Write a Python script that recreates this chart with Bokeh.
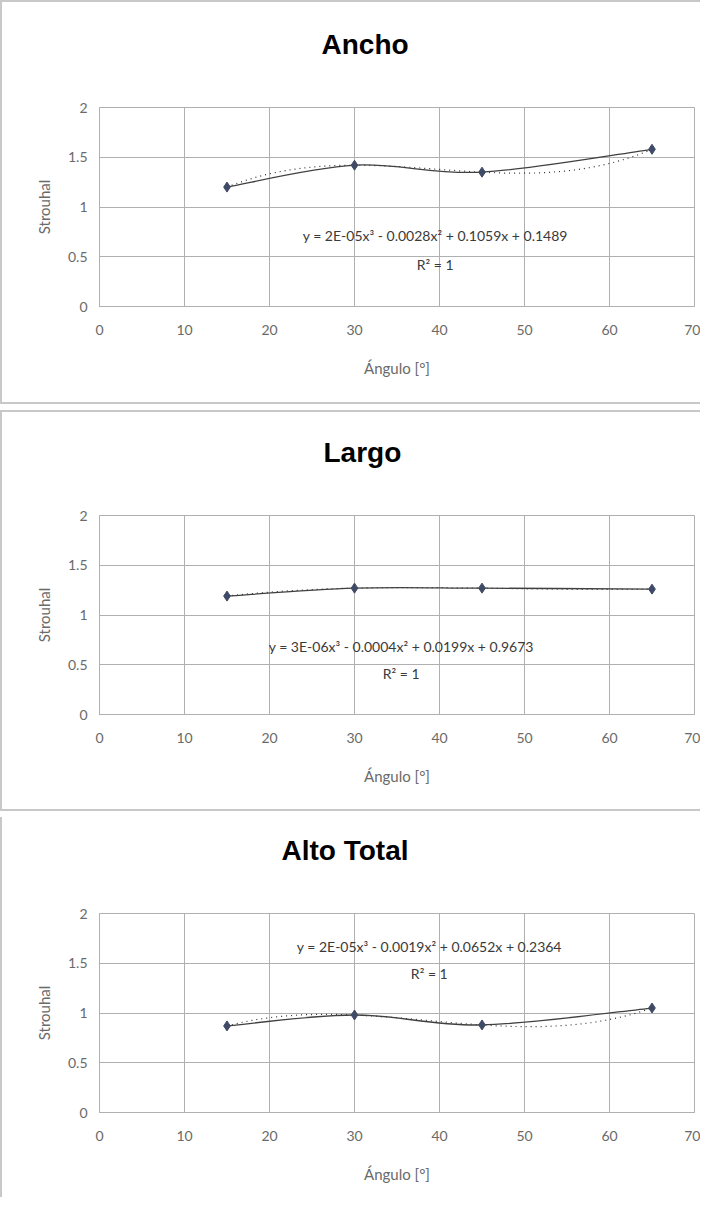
import numpy as np
from bokeh.plotting import figure
from bokeh.models import Label, FixedTicker, ColumnDataSource, Title
from bokeh.layouts import column
from bokeh.embed import file_html
from bokeh.resources import INLINE

# ---------------- data ----------------
titles = ["Ancho", "Largo", "Alto Total"]
angulo = [15, 30, 45, 65]
ancho = [1.20, 1.42, 1.35, 1.58]
largo = [1.19, 1.27, 1.27, 1.26]
alto_total = [0.87, 0.98, 0.88, 1.05]
series = [ancho, largo, alto_total]
ecuaciones = [
    "y = 2E-05x³ - 0.0028x² + 0.1059x + 0.1489",
    "y = 3E-06x³ - 0.0004x² + 0.0199x + 0.9673",
    "y = 2E-05x³ - 0.0019x² + 0.0652x + 0.2364",
]
r2_text = "R² = 1"
x_ticks = [0, 10, 20, 30, 40, 50, 60, 70]
y_ticks = [0, 0.5, 1, 1.5, 2]
y_tick_labels = ["0", "0.5", "1", "1.5", "2"]
x_label = "Ángulo [°]"
y_label = "Strouhal"

# ---------------- layout / style ----------------
eq_pos = [(39.5, 0.71, 0.42), (35.5, 0.68, 0.41), (38.8, 1.67, 1.40)]
title_offset = [222, 224, 182]
heights = [404, 401, 380]
tops = [105, 103, 96]
FRAME_H = 199
BORDER = "2px solid #c8c8c8"
GRID = "#b0b0b0"
TICK_COLOR = "#6a6a6a"


def bezier_segments(xs, ys):
    xs = np.asarray(xs, float)
    ys = np.asarray(ys, float)
    n = len(xs)
    px = np.concatenate([[xs[0]], xs, [xs[-1]]])
    py = np.concatenate([[ys[0]], ys, [ys[-1]]])
    d = dict(x0=[], y0=[], x1=[], y1=[], cx0=[], cy0=[], cx1=[], cy1=[])
    for i in range(n - 1):
        a, b, c, e = i, i + 1, i + 2, i + 3
        d["x0"].append(px[b]); d["y0"].append(py[b])
        d["x1"].append(px[c]); d["y1"].append(py[c])
        d["cx0"].append(px[b] + (px[c] - px[a]) / 6)
        d["cy0"].append(py[b] + (py[c] - py[a]) / 6)
        d["cx1"].append(px[c] - (px[e] - px[b]) / 6)
        d["cy1"].append(py[c] - (py[e] - py[b]) / 6)
    return d


figs = []
for i, (name, vals) in enumerate(zip(titles, series)):
    H = heights[i]
    if i < 2:
        borders = {"border-left": BORDER, "border-bottom": BORDER, "border-top": BORDER}
    else:
        borders = {"border-left": BORDER}
    p = figure(width=700, height=H, x_range=(0, 70), y_range=(0, 2),
               output_backend="svg", toolbar_location=None,
               min_border_left=97, min_border_right=8,
               min_border_top=tops[i], min_border_bottom=H - tops[i] - FRAME_H,
               styles=borders)
    p.outline_line_color = GRID
    p.background_fill_color = "white"
    p.border_fill_color = "white"

    # spacer between frame and title (title sits higher above the plot area)
    p.add_layout(Title(text=" ", text_font_size="1px", standoff=44), "above")
    p.title.text = name
    p.title.align = "left"
    p.title.offset = title_offset[i]
    p.title.vertical_align = "middle"
    p.title.standoff = 0
    p.title.text_font = "Liberation Sans"
    p.title.text_font_size = "28px"
    p.title.text_font_style = "bold"
    p.title.text_color = "#000000"

    p.xaxis.ticker = FixedTicker(ticks=x_ticks)
    p.yaxis.ticker = FixedTicker(ticks=y_ticks)
    p.yaxis.major_label_overrides = {t: l for t, l in zip(y_ticks, y_tick_labels)}
    for ax in (p.xaxis, p.yaxis):
        ax.axis_line_color = GRID
        ax.major_tick_line_color = None
        ax.minor_tick_line_color = None
        ax.major_tick_out = 0
        ax.major_label_text_font = "Lato"
        ax.major_label_text_font_size = "14px"
        ax.major_label_text_color = TICK_COLOR
        ax.axis_label_text_font = "Lato"
        ax.axis_label_text_font_size = "15px"
        ax.axis_label_text_font_style = "normal"
        ax.axis_label_text_color = TICK_COLOR
    p.xaxis.major_label_standoff = 18
    p.xaxis.axis_label = x_label
    p.xaxis.axis_label_standoff = 21
    p.yaxis.major_label_standoff = 12
    p.yaxis.axis_label = y_label
    p.yaxis.axis_label_standoff = 12

    p.xgrid.ticker = FixedTicker(ticks=x_ticks)
    p.ygrid.ticker = FixedTicker(ticks=y_ticks)
    p.xgrid.grid_line_color = GRID
    p.ygrid.grid_line_color = GRID

    # polynomial trendline (cubic fit of the data)
    coef = np.polyfit(angulo, vals, 3)
    xt = np.linspace(min(angulo), max(angulo), 120)
    p.line(xt, np.polyval(coef, xt), line_color="#303030", line_width=1.2,
           line_dash="1 4")

    # smoothed series line
    src = ColumnDataSource(bezier_segments(angulo, vals))
    p.bezier(x0="x0", y0="y0", x1="x1", y1="y1", cx0="cx0", cy0="cy0",
             cx1="cx1", cy1="cy1", source=src, line_color="#404040", line_width=1.3)

    p.scatter(angulo, vals, marker="diamond", size=10, fill_color="#3f4a66",
              line_color="#3f4a66")

    ex, ey, ry = eq_pos[i]
    p.add_layout(Label(x=ex, y=ey, text=ecuaciones[i], text_align="center",
                       text_baseline="middle", text_font="Lato",
                       text_font_size="14px", text_color="#3a3a3a"))
    p.add_layout(Label(x=ex, y=ry, text=r2_text, text_align="center",
                       text_baseline="middle", text_font="Lato",
                       text_font_size="14px", text_color="#3a3a3a"))
    figs.append(p)

layout = column(*figs, spacing=6)
open("out.html", "w").write(file_html(layout, INLINE))
